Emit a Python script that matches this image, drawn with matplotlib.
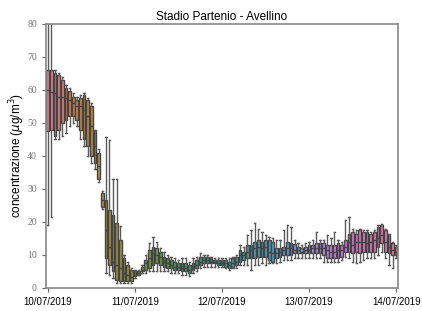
import matplotlib
matplotlib.use("Agg")
import matplotlib.pyplot as plt
import numpy as np
import seaborn as sns

# hourly boxes from 10/07/2019 00:00 to 14/07/2019 00:00
q1 = [47.5, 48, 46, 48, 50, 51, 52, 52, 51, 48, 45, 43, 40, 38, 33, 24.5,
      9, 7, 5, 2.4, 2, 2, 2, 2, 3.5, 4, 5, 5.5, 6, 7, 7.5, 7, 6.5, 6, 6, 5.5,
      5.5, 5, 5, 4.5, 5.5, 6, 7, 7.5, 7.5, 7.5, 7.5, 7, 7, 6.5, 6, 6.5, 7, 8,
      8.5, 9, 9, 9, 9.5, 9.5, 9.5, 8.5, 8, 9, 9.5, 10, 10, 10, 10.5, 10.5,
      10.5, 10.5, 10.5, 10.5, 10.5, 10.5, 10, 9, 9, 9, 9, 9.5, 11, 11, 10.5,
      11, 10.5, 11, 11, 11, 11, 12.5, 13.5, 11, 10.5, 10, 10]
med = [60, 59.5, 59, 58, 58, 57.5, 57, 56, 55, 55, 54, 52, 49, 43, 37, 26.7,
       17.6, 12.5, 8, 7, 6, 4.5, 4, 3.4, 4, 4.5, 5.5, 7.5, 9, 10.5, 10, 9.5, 8,
       7.5, 7, 6.5, 6.5, 6, 6, 5.5, 6.5, 7, 8, 8.5, 8.5, 8, 8, 7.5, 7.5, 7.5,
       7, 7.5, 8, 10, 10, 11, 11.5, 12, 12.5, 12, 12.5, 11, 10.5, 10.5, 11,
       11.5, 12, 12, 11.5, 11.5, 11, 11.5, 11.5, 12, 12, 12, 12, 11.5, 11, 11,
       11.5, 11.5, 12.5, 14, 13, 14, 14, 14, 13.5, 14, 14.5, 15, 16, 14, 12.5,
       11.5, 11]
q3 = [66, 66, 65, 64.5, 63, 60.5, 59.8, 58, 57, 57.5, 58.5, 57, 55, 47.5, 41,
      28.8, 26.7, 23.6, 22, 19.7, 14.5, 9, 7, 5.5, 5, 5, 6.5, 8.5, 11.5, 12.5,
      12.2, 11, 9.5, 9, 8.5, 8, 7.5, 7.5, 7.5, 7, 7.5, 8.5, 9.5, 9.5, 9.5, 9,
      8.5, 8.5, 8.5, 8.5, 8, 9, 9.5, 11.5, 11, 13, 13, 14, 14.5, 14, 14.5,
      14.5, 14, 12, 12, 12.5, 14, 13.5, 13.3, 12.5, 12, 12.5, 13, 13, 13.5,
      13.5, 13.5, 13, 13, 13, 13.5, 13, 14.5, 16.5, 17, 16.5, 17.5, 17, 17,
      16.5, 17, 18.5, 19, 17.5, 16, 13.5, 12.5]
lo = [19, 21.6, 45, 45, 46, 47, 49, 50, 49, 45, 43, 40, 38, 36, 32, 24, 4.5,
      4, 3, 1.5, 1.5, 1.5, 1.5, 1.5, 3, 3.8, 4.5, 4.5, 5, 5, 5, 5, 5, 5, 4.5,
      4.5, 4.5, 4, 4, 3.5, 4.5, 5, 6, 6.5, 6.5, 6.5, 6.5, 6.5, 6.5, 6, 5.5, 6,
      6, 7, 7, 7, 5.5, 7, 7, 7.5, 7, 7.5, 7.5, 7.5, 8, 8.5, 8.5, 8.5, 9, 9, 9,
      9, 9, 9, 9, 9, 8, 8, 8, 8, 8, 8.5, 9.5, 9, 8, 7.5, 8, 8.5, 9, 9, 9, 10,
      11, 9, 7, 6, 9]
hi = [95, 95, 66, 65, 64, 61.5, 60.5, 59, 58, 58.5, 59, 57.5, 56, 48, 42,
      29.5, 45.8, 44.8, 33, 33, 18.9, 10, 8, 6, 5.5, 5.5, 7, 10, 13.6, 15.5,
      14, 12, 11, 10, 9.5, 9, 8.5, 9, 9, 8, 9, 9.5, 10.5, 10, 10, 9.5, 9, 9,
      9, 9, 9, 9.5, 10, 13, 12.5, 16, 17.6, 19.6, 18, 17, 16, 15.5, 15, 14.5,
      14.5, 17.6, 19, 18.5, 14.5, 13.5, 13, 13.5, 14, 14.5, 17, 14.5, 14.5,
      16, 15, 17, 14.5, 14, 20.6, 21.6, 18, 17.5, 18, 17.5, 17.5, 17, 17.5,
      19, 19.5, 18, 16.5, 14, 13]

tick_pos = [0, 24, 48, 72, 96]
tick_labels = ["10/07/2019", "11/07/2019", "12/07/2019", "13/07/2019", "14/07/2019"]
yticks = [0, 10, 20, 30, 40, 50, 60, 70, 80]

n = len(med)
colors = sns.husl_palette(n, h=0.01, s=0.9, l=0.65)
colors = [sns.desaturate(c, 0.75) for c in colors]

fig = plt.figure(figsize=(4.22, 3.11), dpi=100)
ax = fig.add_axes([0.109, 0.074, 0.834, 0.849])

stats = [dict(q1=q1[i], med=med[i], q3=q3[i], whislo=lo[i], whishi=hi[i])
         for i in range(n)]
edge = "#444444"
wcol = "#5a5a5a"
bp = ax.bxp(stats, positions=list(range(n)), widths=0.75, showfliers=False,
            patch_artist=True, manage_ticks=False,
            boxprops=dict(edgecolor=edge, linewidth=1.0),
            medianprops=dict(color=edge, linewidth=1.0),
            whiskerprops=dict(color=wcol, linewidth=1.0),
            capprops=dict(color=wcol, linewidth=1.0))
for patch, c in zip(bp["boxes"], colors):
    patch.set_facecolor(c)

ax.set_xlim(-0.5, n - 0.5)
ax.set_ylim(0, 80)
ax.set_xticks(tick_pos)
ax.set_xticklabels(tick_labels, fontfamily="Liberation Sans", fontsize=7)
ax.set_yticks(yticks)
ax.set_yticklabels([str(v) for v in yticks], fontfamily="Liberation Serif",
                   fontsize=7, color="#777777")
ax.tick_params(axis="both", length=3, width=0.8, color="#666666")
for s in ax.spines.values():
    s.set_color("#888888")
    s.set_linewidth(1.2)

ax.set_title("Stadio Partenio - Avellino", fontfamily="Liberation Sans",
             fontsize=8.5, pad=3)
ax.set_ylabel(r"concentrazione ($\mu$g/m$^3$)", fontfamily="Liberation Sans",
              fontsize=8.5, labelpad=0)

fig.savefig("out.png", dpi=100)
